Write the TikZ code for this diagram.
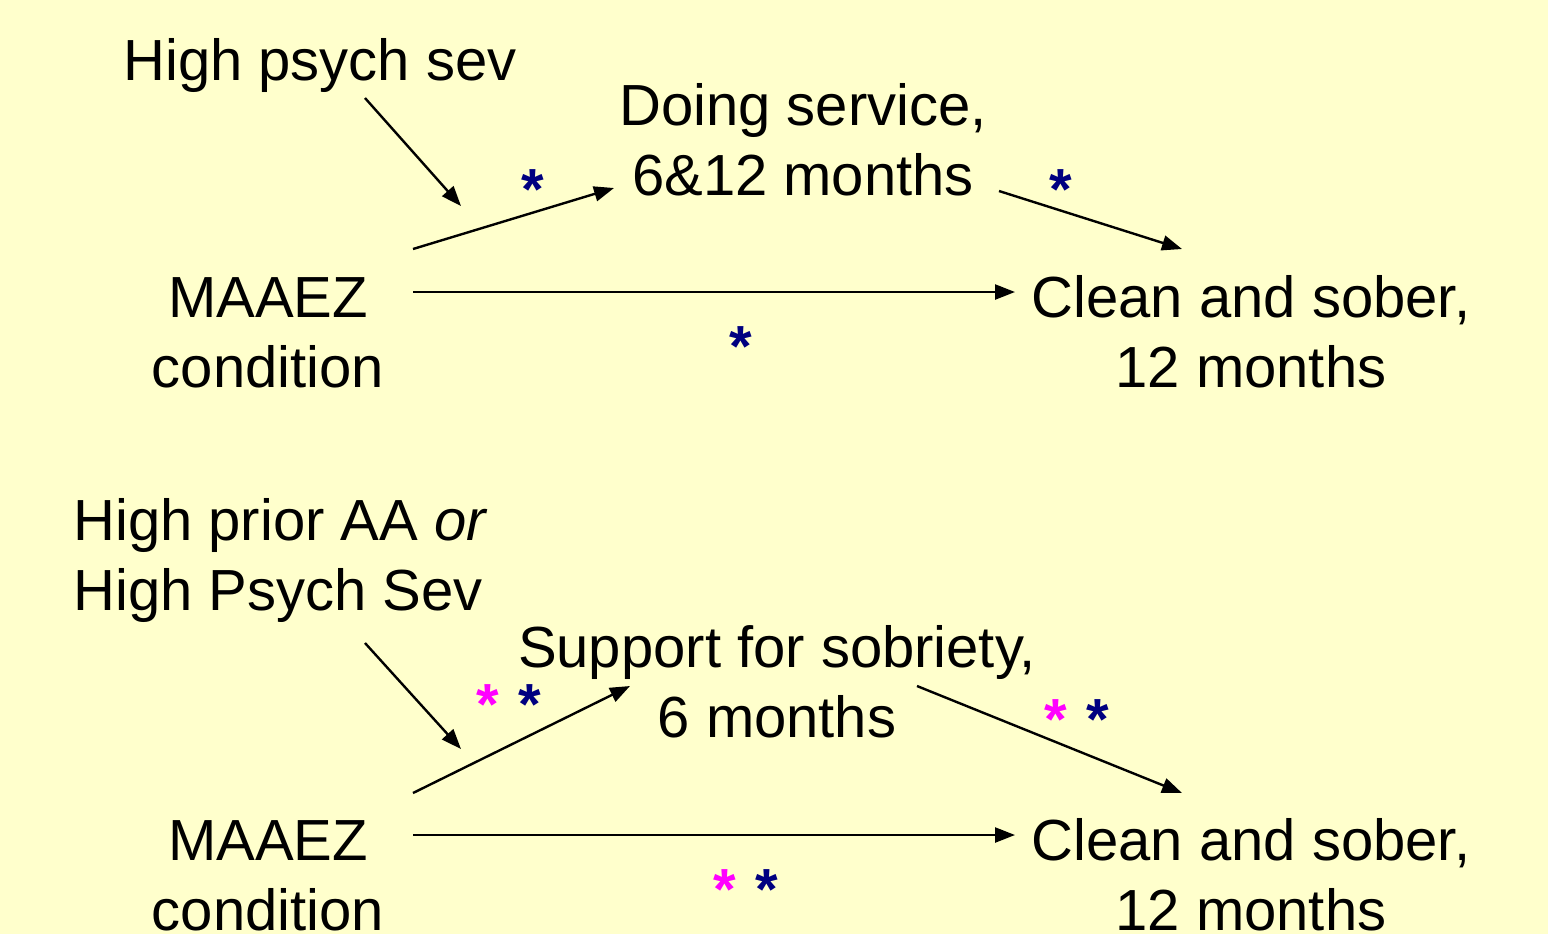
\documentclass[tikz,border=0pt]{standalone}
\usepackage{fontspec}
\setmainfont{Liberation Sans}
\usetikzlibrary{arrows.meta}
\definecolor{fondo}{RGB}{255,255,204}
\definecolor{azul}{RGB}{0,0,128}
\definecolor{rosa}{RGB}{255,0,255}

\begin{document}
\begin{tikzpicture}[x=0.5pt,y=-0.5pt,
    texto/.style={align=center,inner sep=0pt,anchor=base,font=\fontsize{29}{35}\selectfont},
    flecha/.style={-{Triangle[length=10pt,width=7.5pt]},line width=1.2pt},
    astazul/.style={text=azul,inner sep=0pt,font=\fontsize{29}{35}\selectfont\bfseries},
    astrosa/.style={astazul,text=rosa}]
    % Fondo amarillo
    \fill[fondo] (0,0) rectangle (1548,934);
    \useasboundingbox (0,0) rectangle (1548,934);

    % Primer modelo
    \node[texto] (sev1) at (320,80) {High psych sev};
    \node[texto] (serv) at (803,195) {Doing service,\\6\&12 months};
    \node[texto] (maaez1) at (268,387) {MAAEZ\\condition};
    \node[texto] (clean1) at (1251,387) {Clean and sober,\\12 months};

    \coordinate (sev1a) at (365,98);
    \coordinate (sev1b) at (461,206);
    \coordinate (maaez1a) at (413,249);
    \coordinate (maaez1b) at (413,292);
    \coordinate (serva) at (614,188);
    \coordinate (servb) at (999,191);
    \coordinate (clean1a) at (1182,249);
    \coordinate (clean1b) at (1015,292);

    \draw[flecha] (sev1a) -- (sev1b);
    \draw[flecha] (maaez1a) -- (serva);
    \draw[flecha] (servb) -- (clean1a);
    \draw[flecha] (maaez1b) -- (clean1b);

    \node[astazul] (a1) at (533,190) {*};
    \node[astazul] (a2) at (1061,190) {*};
    \node[astazul] (a3) at (741,347) {*};

    % Segundo modelo
    \node[texto,align=left,anchor=base west] (sev2) at (73,610) {High prior AA \textit{or}\\High Psych Sev};
    \node[texto] (sup) at (777,737) {Support for sobriety,\\6 months};
    \node[texto] (maaez2) at (268,930) {MAAEZ\\condition};
    \node[texto] (clean2) at (1251,930) {Clean and sober,\\12 months};

    \coordinate (sev2a) at (365,643);
    \coordinate (sev2b) at (461,749);
    \coordinate (maaez2a) at (413,793);
    \coordinate (maaez2b) at (413,835);
    \coordinate (supa) at (630,686);
    \coordinate (supb) at (917,686);
    \coordinate (clean2a) at (1182,793);
    \coordinate (clean2b) at (1015,835);

    \draw[flecha] (sev2a) -- (sev2b);
    \draw[flecha] (maaez2a) -- (supa);
    \draw[flecha] (supb) -- (clean2a);
    \draw[flecha] (maaez2b) -- (clean2b);

    \node[astrosa] (b1) at (488,705) {*};
    \node[astazul] (b2) at (530,705) {*};
    \node[astrosa] (b3) at (1056,720) {*};
    \node[astazul] (b4) at (1098,720) {*};
    \node[astrosa] (b5) at (725,890) {*};
    \node[astazul] (b6) at (767,890) {*};
\end{tikzpicture}
\end{document}
